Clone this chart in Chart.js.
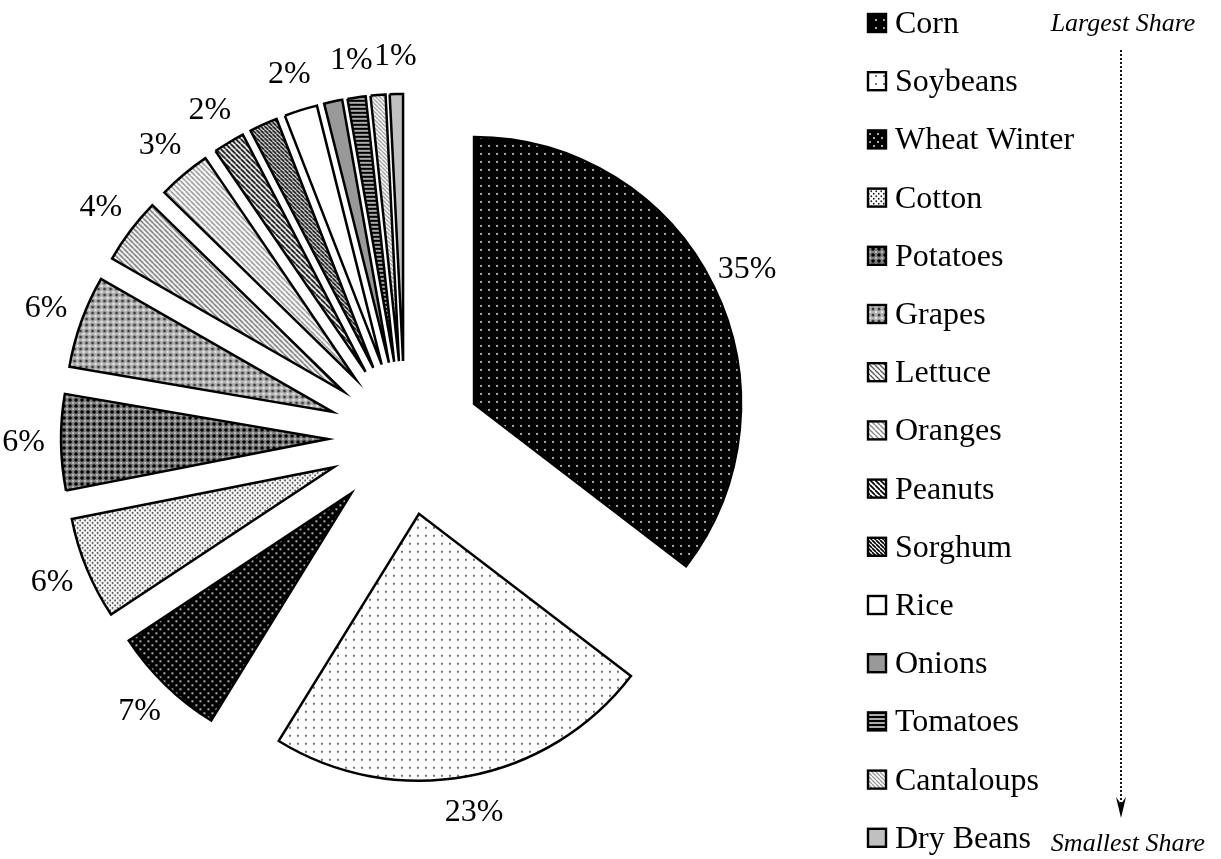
<!DOCTYPE html>
<html>
<head>
<meta charset="utf-8">
<script src="https://cdn.jsdelivr.net/npm/chart.js@4.4.0/dist/chart.umd.min.js"></script>
<style>
  html, body { margin: 0; padding: 0; background: #fff; }
  #wrap { width: 1221px; height: 859px; position: relative; }
</style>
</head>
<body>
<div id="wrap"><canvas id="pieChart"></canvas></div>
<script>
const crops = ['Corn', 'Soybeans', 'Wheat Winter', 'Cotton', 'Potatoes', 'Grapes', 'Lettuce',
  'Oranges', 'Peanuts', 'Sorghum', 'Rice', 'Onions', 'Tomatoes', 'Cantaloups', 'Dry Beans'];
const shares = [35.4, 23.4, 6.9, 6.2, 5.8, 5.6, 4.0, 3.2, 1.9, 1.7, 2.0, 1.1, 1.1, 0.9, 0.8];
// which slices get a % label (the rest are too crowded in the original)
const showPct = [true, true, true, true, true, true, true, true, true, false, true, false, true, false, true];
const topNote = 'Largest Share';
const bottomNote = 'Smallest Share';

const EXPLODE = 77;
const SERIF = '"Liberation Serif", "DejaVu Serif", serif';

// ---- fill patterns ----
function tile(size, bg, paint) {
  const c = document.createElement('canvas');
  c.width = size; c.height = size;
  const g = c.getContext('2d');
  g.fillStyle = bg;
  g.fillRect(0, 0, size, size);
  if (paint) paint(g, size);
  return g.createPattern(c, 'repeat');
}
function dots(color, r, pts) {
  return function (g) {
    g.fillStyle = color;
    pts.forEach(function (p) {
      g.beginPath(); g.arc(p[0], p[1], r, 0, Math.PI * 2); g.fill();
    });
  };
}
function hatch(color, w, dir) {
  return function (g, s) {
    g.strokeStyle = color; g.lineWidth = w; g.beginPath();
    for (let k = -s; k <= s; k += s) {
      if (dir === 'back') { g.moveTo(k, 0); g.lineTo(k + s, s); }
      else { g.moveTo(k, s); g.lineTo(k + s, 0); }
    }
    g.stroke();
  };
}
function both() {
  const fns = Array.from(arguments);
  return function (g, s) { fns.forEach(function (f) { f(g, s); }); };
}
const corners6 = [[0, 0], [6, 0], [0, 6], [6, 6]];

const fills = [
  tile(8, '#000', dots('#fff', 0.9, [[4, 4]])),                       // Corn
  tile(8, '#fff', dots('#333', 0.9, [[4, 4]])),                       // Soybeans
  tile(8, '#000', dots('#fff', 0.9, [[2, 2], [6, 6]])),               // Wheat Winter
  tile(5, '#fff', dots('#222', 0.9, [[1.25, 1.25], [3.75, 3.75]])),   // Cotton
  tile(6, '#808080', both(dots('#000', 1.8, [[3, 3]]), dots('#fff', 0.8, corners6))), // Potatoes
  tile(6, '#b4b4b4', both(dots('#3a3a3a', 1.5, [[3, 3]]), dots('#fff', 0.9, corners6))), // Grapes
  tile(5, '#fff', hatch('#555', 1.3, 'back')),                         // Lettuce
  tile(5, '#fff', hatch('#888', 1.4, 'back')),                         // Oranges
  tile(5, '#fff', hatch('#000', 1.7, 'back')),                         // Peanuts
  tile(4, '#fff', hatch('#000', 1.6, 'back')),                         // Sorghum
  '#ffffff',                                                           // Rice
  '#999999',                                                           // Onions
  tile(4, '#aaa', function (g) { g.fillStyle = '#000'; g.fillRect(0, 0, 4, 2); }), // Tomatoes
  tile(4, '#fff', hatch('#999', 1.3, 'back')),                         // Cantaloups
  '#c0c0c0'                                                            // Dry Beans
];

// draw every slice pushed out from the centre along its middle angle
const explodePlugin = {
  id: 'explode',
  beforeDatasetDraw(chart, args) {
    const ctx = chart.ctx;
    args.meta.data.forEach(function (arc) {
      const mid = (arc.startAngle + arc.endAngle) / 2;
      ctx.save();
      ctx.translate(Math.cos(mid) * EXPLODE, Math.sin(mid) * EXPLODE);
      arc.draw(ctx);
      ctx.restore();
    });
    return false;
  },
  afterDatasetsDraw(chart) {
    const ctx = chart.ctx;
    const total = shares.reduce(function (a, b) { return a + b; }, 0);
    ctx.save();
    ctx.font = '32px ' + SERIF;
    ctx.fillStyle = '#000';
    ctx.textAlign = 'center';
    ctx.textBaseline = 'middle';
    chart.getDatasetMeta(0).data.forEach(function (arc, i) {
      if (!showPct[i]) return;
      const mid = (arc.startAngle + arc.endAngle) / 2;
      const rr = EXPLODE + arc.outerRadius * 1.14;
      const pct = Math.round(shares[i] / total * 100) + '%';
      ctx.fillText(pct, arc.x + Math.cos(mid) * rr, arc.y + Math.sin(mid) * rr);
    });
    ctx.restore();
  }
};

// legend column + largest/smallest arrow on the right
const sideLegend = {
  id: 'sideLegend',
  afterDraw(chart) {
    const ctx = chart.ctx;
    const bg = chart.data.datasets[0].backgroundColor;
    ctx.save();
    ctx.font = '32px ' + SERIF;
    ctx.textAlign = 'left';
    ctx.textBaseline = 'alphabetic';
    chart.data.labels.forEach(function (lab, i) {
      const base = 33 + i * 58.2;
      ctx.fillStyle = bg[i];
      ctx.fillRect(868, base - 19, 18, 18);
      ctx.strokeStyle = '#000';
      ctx.lineWidth = 2.4;
      ctx.strokeRect(868, base - 19, 18, 18);
      ctx.fillStyle = '#000';
      ctx.fillText(lab, 895, base);
    });

    ctx.font = 'italic 26px ' + SERIF;
    ctx.textAlign = 'center';
    ctx.fillText(topNote, 1123, 31);
    ctx.fillText(bottomNote, 1128, 851);

    ctx.beginPath();
    ctx.setLineDash([2, 2]);
    ctx.lineWidth = 1.8;
    ctx.moveTo(1121, 50);
    ctx.lineTo(1121, 806);
    ctx.stroke();
    ctx.setLineDash([]);
    ctx.beginPath();
    ctx.moveTo(1121, 818);
    ctx.lineTo(1116, 797);
    ctx.lineTo(1121, 804);
    ctx.lineTo(1126, 797);
    ctx.closePath();
    ctx.fill();
    ctx.restore();
  }
};

new Chart(document.getElementById('pieChart'), {
  type: 'pie',
  data: {
    labels: crops,
    datasets: [{
      data: shares,
      backgroundColor: fills,
      borderColor: '#000',
      borderWidth: 2.5,
      borderJoinStyle: 'miter',
      offset: 0
    }]
  },
  options: {
    responsive: true,
    maintainAspectRatio: false,
    animation: false,
    events: [],
    radius: 267,
    layout: { padding: { left: 0, right: 411, top: 17, bottom: 0 } },
    plugins: {
      legend: { display: false },
      tooltip: { enabled: false }
    }
  },
  plugins: [explodePlugin, sideLegend]
});
</script>
</body>
</html>
